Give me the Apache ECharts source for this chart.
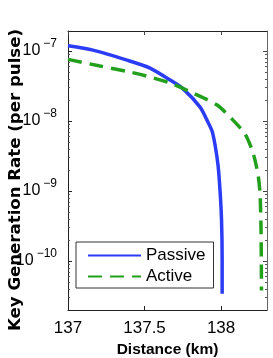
<!DOCTYPE html>
<html><head><meta charset="utf-8">
<script src="https://cdn.jsdelivr.net/npm/echarts@6/dist/echarts.min.js"></script>
<style>html,body{margin:0;padding:0;background:#fff}#c{width:273px;height:358px}</style>
</head><body><div id="c"></div>
<script>
// Data
const passiveX = [137.000, 137.163, 137.386, 137.536, 137.667, 137.752, 137.863, 137.908, 137.941, 137.961, 137.980, 137.993, 138.003, 138.007, 138.007];
const passiveY = [1.19e-7, 1.03e-7, 7.4e-8, 5.7e-8, 3.85e-8, 2.88e-8, 1.58e-8, 1.03e-8, 7.2e-9, 4.5e-9, 2.35e-9, 1.03e-9, 3.85e-10, 1.03e-10, 3.4e-11];
const activeX = [137.000, 137.209, 137.405, 137.536, 137.667, 137.817, 137.974, 138.078, 138.157, 138.209, 138.242, 138.255, 138.261, 138.264];
const activeY = [7.6e-8, 6.1e-8, 5.0e-8, 4.25e-8, 3.49e-8, 2.51e-8, 1.69e-8, 1.03e-8, 6.5e-9, 3.5e-9, 1.69e-9, 8.8e-10, 2.8e-10, 3.8e-11];
const seriesNames = ['Passive', 'Active'];
const xTicks = [137, 137.5, 138];
const yTicks = [1e-10, 1e-9, 1e-8, 1e-7];
const yMinorTicks = [3e-11, 4e-11, 5e-11, 6e-11, 7e-11, 8e-11, 9e-11,
  2e-10, 3e-10, 4e-10, 5e-10, 6e-10, 7e-10, 8e-10, 9e-10,
  2e-9, 3e-9, 4e-9, 5e-9, 6e-9, 7e-9, 8e-9, 9e-9,
  2e-8, 3e-8, 4e-8, 5e-8, 6e-8, 7e-8, 8e-8, 9e-8];
const xTitle = 'Distance (km)';
const yTitle = 'Key Generation Rate (per pulse)';

const FONT = '"Liberation Sans", Arial, Helvetica, sans-serif';
const YFONT = '"DejaVu Sans", "Liberation Sans", sans-serif';
const X_MIN = 137, X_MAX = 138.3;
const Y_MIN = 2e-11, Y_MAX = 1.93e-7;
const BLUE = '#2b3cf6', GREEN = '#22a01c';

const pairs = (xs, ys) => xs.map((x, i) => [x, ys[i]]);

function yAxisBase(pos, extra) {
  return Object.assign({
    type: 'log', position: pos, min: Y_MIN, max: Y_MAX, logBase: 10,
    splitLine: { show: false },
    axisLine: { show: false },
    axisTick: { show: false },
    axisLabel: { show: false }
  }, extra);
}

const chart = echarts.init(document.getElementById('c'), null, { renderer: 'canvas' });
chart.setOption({
  animation: false,
  backgroundColor: '#fff',
  grid: { left: 68, top: 31, width: 199, height: 279, containLabel: false, outerBoundsMode: 'none' },
  xAxis: [
    {
      type: 'value', position: 'bottom', min: X_MIN, max: X_MAX,
      name: xTitle, nameLocation: 'middle', nameGap: 28,
      nameTextStyle: { fontFamily: FONT, fontSize: 15.5, fontWeight: 'bold', color: '#000' },
      splitLine: { show: false },
      axisLine: { show: true, lineStyle: { color: '#222', width: 1 } },
      axisTick: { show: true, inside: true, length: 4, customValues: xTicks, lineStyle: { color: '#222' } },
      axisLabel: { show: true, customValues: xTicks, margin: 10, fontFamily: FONT, fontSize: 17, color: '#000',
        formatter: v => String(v) }
    },
    {
      type: 'value', position: 'top', min: X_MIN, max: X_MAX,
      splitLine: { show: false },
      axisLine: { show: true, lineStyle: { color: '#222', width: 1 } },
      axisTick: { show: true, inside: true, length: 4, customValues: xTicks, lineStyle: { color: '#444' } },
      axisLabel: { show: false }
    }
  ],
  yAxis: [
    yAxisBase('left', {
      name: yTitle, nameLocation: 'middle', nameGap: 44, nameMoveOverlap: false,
      nameTextStyle: { fontFamily: YFONT, fontSize: 16.6, fontWeight: 'bold', color: '#000', padding: [0, 19, 0, 0] },
      axisLine: { show: true, lineStyle: { color: '#222', width: 1 } },
      axisTick: { show: true, inside: true, length: 4, customValues: yTicks, lineStyle: { color: '#222' } },
      axisLabel: {
        show: true, customValues: yTicks, margin: 11, fontFamily: FONT, color: '#000',
        formatter: v => '{b|10}{s|\u2212' + Math.round(-Math.log10(v)) + '}',
        rich: {
          b: { fontFamily: FONT, fontSize: 16, color: '#000' },
          s: { fontFamily: FONT, fontSize: 12, color: '#000', padding: [0, 0, 15, 3] }
        }
      }
    }),
    yAxisBase('right', {
      axisLine: { show: true, lineStyle: { color: '#666', width: 1 } },
      axisTick: { show: true, inside: true, length: 4, customValues: yTicks, lineStyle: { color: '#444' } }
    }),
    yAxisBase('left', {
      axisTick: { show: true, inside: true, length: 2, customValues: yMinorTicks, lineStyle: { color: '#555' } }
    }),
    yAxisBase('right', {
      axisTick: { show: true, inside: true, length: 2, customValues: yMinorTicks, lineStyle: { color: '#555' } }
    })
  ],
  legend: {
    orient: 'vertical', left: 76, top: 242,
    padding: [5, 8, 3, 11], itemGap: 4, itemWidth: 53, itemHeight: 20,
    backgroundColor: '#fff', borderColor: '#333', borderWidth: 1, borderRadius: 0,
    itemStyle: { color: 'transparent', borderColor: 'transparent', borderWidth: 0 },
    textStyle: { fontFamily: FONT, fontSize: 17, color: '#000' },
    data: seriesNames
  },
  series: [
    {
      name: seriesNames[0], type: 'line', xAxisIndex: 0, yAxisIndex: 0,
      data: pairs(passiveX, passiveY), showSymbol: false, symbol: 'none', smooth: 0.25,
      lineStyle: { color: BLUE, width: 3.5 }, itemStyle: { color: BLUE }
    },
    {
      name: seriesNames[1], type: 'line', xAxisIndex: 0, yAxisIndex: 0,
      data: pairs(activeX, activeY), showSymbol: false, symbol: 'none', smooth: 0.25,
      lineStyle: { color: GREEN, width: 3.5, type: [14, 8] }, itemStyle: { color: GREEN }
    }
  ]
});
</script>
</body></html>
